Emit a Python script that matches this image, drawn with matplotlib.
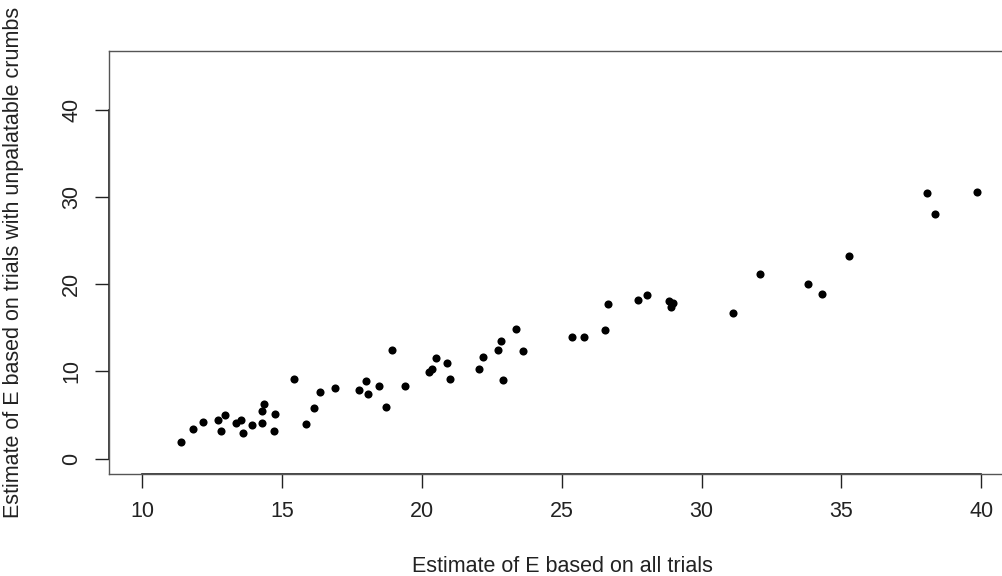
import matplotlib
matplotlib.use('Agg')
import matplotlib.pyplot as plt

# Estimates
all_trials = [11.38, 11.80, 12.17, 12.69, 12.82, 12.97, 13.34, 13.53, 13.59, 13.91,
              14.27, 14.27, 14.37, 14.73, 14.71, 15.43, 15.85, 16.15, 16.35, 16.89,
              17.75, 18.01, 18.08, 18.46, 18.71, 18.93, 19.39, 20.25, 20.36, 20.50,
              20.89, 21.01, 22.04, 22.19, 22.73, 22.84, 22.91, 23.37, 23.63, 25.36,
              25.80, 26.56, 26.64, 27.74, 28.05, 28.83, 28.97, 28.91, 31.12, 32.08,
              33.82, 34.31, 35.28, 38.07, 38.36, 39.86]
unpalatable = [1.93, 3.39, 4.20, 4.43, 3.16, 5.04, 4.12, 4.43, 2.93, 3.89,
               4.12, 5.42, 6.31, 5.12, 3.16, 9.10, 3.92, 5.85, 7.65, 8.11,
               7.84, 8.95, 7.38, 8.34, 5.93, 12.44, 8.34, 9.91, 10.30, 11.52,
               10.94, 9.15, 10.30, 11.60, 12.49, 13.44, 9.07, 14.90, 12.29, 13.98,
               13.90, 14.79, 17.73, 18.19, 18.73, 18.12, 17.85, 17.39, 16.74, 21.23,
               20.03, 18.85, 23.19, 30.47, 28.06, 30.55]
x_ticks = [10, 15, 20, 25, 30, 35, 40]
y_ticks = [0, 10, 20, 30, 40]

plt.rcParams['font.family'] = ['Liberation Sans', 'DejaVu Sans']
fs = 15.5

fig = plt.figure(figsize=(10.03, 5.76), dpi=100)
ax = fig.add_axes([0.1084, 0.1766, 0.9033, 0.7354])

ax.scatter(all_trials, unpalatable, s=34, color='black', linewidths=0)

ax.set_xlim(8.8, 41.2)
ax.set_ylim(-1.8, 46.8)
ax.set_xticks(x_ticks)
ax.set_yticks(y_ticks)
ax.set_yticklabels([str(t) for t in y_ticks], rotation=90, va='center')

# box is a bit lighter than the axis lines drawn over it (R style)
for sp in ax.spines.values():
    sp.set_linewidth(1.0)
    sp.set_color('#555555')
ax.spines['right'].set_visible(False)
ax.plot([x_ticks[0], x_ticks[-1]], [-1.8, -1.8], color='#222222', lw=1.2, clip_on=False)
ax.plot([8.8, 8.8], [y_ticks[0], y_ticks[-1]], color='#222222', lw=1.2, clip_on=False)

ax.tick_params(direction='out', length=10, width=1.0, labelsize=fs, pad=9, colors='#222222')

fig.text(0.5605, 1 - 572 / 576, 'Estimate of E based on all trials', fontsize=fs,
         ha='center', va='baseline', color='#222222')
fig.text(19 / 1003, 1 - 262.5 / 576, 'Estimate of E based on trials with unpalatable crumbs',
         fontsize=fs, rotation=90, rotation_mode='anchor', ha='center', va='baseline',
         color='#222222')

fig.savefig('out.png', dpi=100)
